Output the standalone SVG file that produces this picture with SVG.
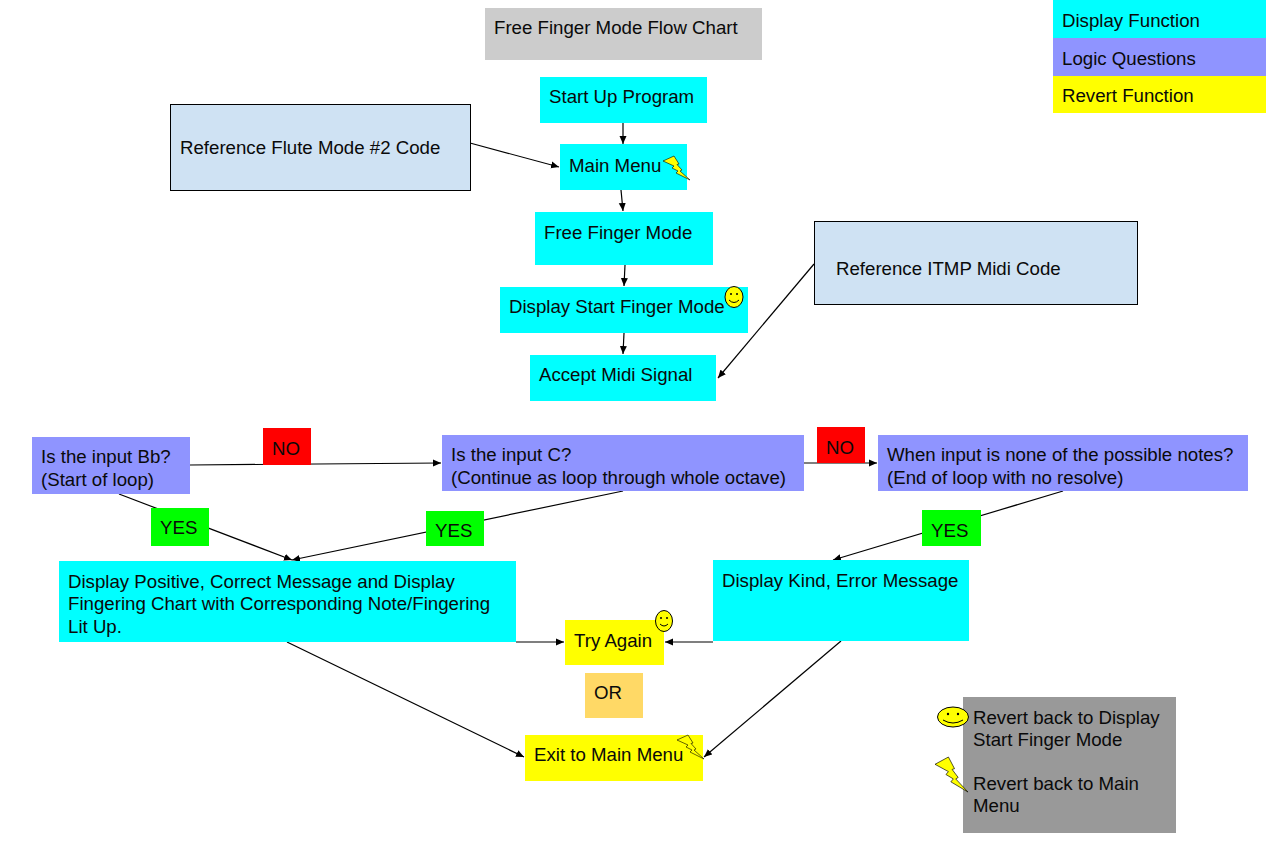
<svg xmlns="http://www.w3.org/2000/svg" width="1276" height="850" viewBox="0 0 1276 850">
<style>
text{font-family:"Liberation Sans",Arial,sans-serif;font-size:18.67px;fill:#0a0a0a}
.c{stroke:#000;stroke-width:1.2;fill:none;marker-end:url(#a)}
.cy{fill:#00ffff}.pu{fill:#8f94ff}.ye{fill:#ffff00}.bl{fill:#cfe2f3;stroke:#000;stroke-width:1}
.red{fill:#ff0000}.gr{fill:#00ff00}
.sm{fill:#ffff00;stroke:#000;stroke-width:1}
.f{fill:none;stroke:#000;stroke-width:1}
.e{fill:#000}
</style>
<defs>
<marker id="a" markerWidth="9" markerHeight="8" refX="8" refY="4" orient="auto" markerUnits="userSpaceOnUse"><path d="M0 0.5L8 4L0 7.5z" fill="#000"/></marker>
<polygon id="bolt" points="0,5 11,0 16,8 14,8.500 19,14 17,15 27,24 13,17 15,15 9,12 11,10"/>
</defs>
<rect width="1276" height="850" fill="#fff"/>
<g id="connectors">
<path class="c" d="M623 123V144"/>
<path class="c" d="M470 143L559 167"/>
<path class="c" d="M621 190L623 211"/>
<path class="c" d="M625 265L624 286"/>
<path class="c" d="M624 333L623 354"/>
<path class="c" d="M814 264L718 378"/>
<path class="c" d="M190 465L441 463"/>
<path class="c" d="M803 463L877 463"/>
<path class="c" d="M119 494L292 560"/>
<path class="c" d="M623 491L292 560"/>
<path class="c" d="M1063 491L833 560"/>
<path class="c" d="M516 642L564 642"/>
<path class="c" d="M713 642H665"/>
<path class="c" d="M287 642L524 757"/>
<path class="c" d="M841 641L704 757"/>
</g>
<g id="title"><rect x="485" y="8" width="277" height="52" fill="#cccccc"/><text x="494" y="34">Free Finger Mode Flow Chart</text></g>
<g id="legend-display"><rect x="1053" y="0" width="213" height="38" class="cy"/><text x="1062" y="27">Display Function</text></g>
<g id="legend-logic"><rect x="1053" y="38" width="213" height="38" class="pu"/><text x="1062" y="65">Logic Questions</text></g>
<g id="legend-revert"><rect x="1053" y="76" width="213" height="37" class="ye"/><text x="1062" y="102">Revert Function</text></g>
<g id="start-up"><rect x="540" y="77" width="167" height="46" class="cy"/><text x="549" y="103">Start Up Program</text></g>
<g id="ref-flute"><rect x="170.500" y="104.500" width="300" height="86" class="bl"/><text x="180" y="154">Reference Flute Mode #2 Code</text></g>
<g id="main-menu"><rect x="560" y="144" width="127" height="46" class="cy"/><text x="569" y="172">Main Menu</text>
<use href="#bolt" x="663" y="156" class="sm" style="stroke-width:.6"/></g>
<g id="free-finger"><rect x="535" y="212" width="178" height="53" class="cy"/><text x="544" y="239">Free Finger Mode</text></g>
<g id="ref-itmp"><rect x="814.500" y="221.500" width="323" height="83" class="bl"/><text x="836" y="275">Reference ITMP Midi Code</text></g>
<g id="display-start"><rect x="500" y="287" width="248" height="46" class="cy"/><text x="509" y="313">Display Start Finger Mode</text>
<ellipse cx="734" cy="297" rx="9" ry="10.500" class="sm"/><circle cx="731" cy="294" r="1" class="e"/><circle cx="737" cy="294" r="1" class="e"/><path class="f" d="M729 300Q734 305 739 300"/></g>
<g id="accept-midi"><rect x="530" y="355" width="186" height="46" class="cy"/><text x="539" y="381">Accept Midi Signal</text></g>
<g id="q-bb"><rect x="32" y="437" width="158" height="57" class="pu"/><text x="41" y="463">Is the input Bb?</text><text x="41" y="486">(Start of loop)</text></g>
<g id="no-1"><rect x="263" y="428" width="48" height="37" class="red"/><text x="272" y="455">NO</text></g>
<g id="q-c"><rect x="442" y="435" width="362" height="56" class="pu"/><text x="451" y="461">Is the input C?</text><text x="451" y="484">(Continue as loop through whole octave)</text></g>
<g id="no-2"><rect x="817" y="427" width="48" height="36" class="red"/><text x="826" y="454">NO</text></g>
<g id="q-none"><rect x="878" y="435" width="370" height="56" class="pu"/><text x="887" y="461">When input is none of the possible notes?</text><text x="887" y="484">(End of loop with no resolve)</text></g>
<g id="yes-1"><rect x="151" y="508" width="58" height="38" class="gr"/><text x="160" y="534">YES</text></g>
<g id="yes-2"><rect x="426" y="511" width="58" height="35" class="gr"/><text x="435" y="537">YES</text></g>
<g id="yes-3"><rect x="922" y="510" width="59" height="36" class="gr"/><text x="931" y="537">YES</text></g>
<g id="display-positive"><rect x="59" y="561" width="457" height="81" class="cy"/><text x="68" y="588">Display Positive, Correct Message and Display</text><text x="68" y="610">Fingering Chart with Corresponding Note/Fingering</text><text x="68" y="633">Lit Up.</text></g>
<g id="display-error"><rect x="713" y="560" width="256" height="81" class="cy"/><text x="722" y="587">Display Kind, Error Message</text></g>
<g id="try-again"><rect x="565" y="620" width="99" height="45" class="ye"/><text x="574" y="647">Try Again</text>
<ellipse cx="664" cy="621" rx="8.500" ry="10.500" class="sm"/><circle cx="661" cy="618" r="1" class="e"/><circle cx="667" cy="618" r="1" class="e"/><path class="f" d="M660 624Q664 628 668 624"/></g>
<g id="or"><rect x="585" y="673" width="58" height="45" fill="#ffd966"/><text x="594" y="699">OR</text></g>
<g id="exit-main"><rect x="525" y="735" width="178" height="46" class="ye"/><text x="534" y="761">Exit to Main Menu</text>
<use href="#bolt" x="677" y="735" class="sm" style="stroke-width:.6"/></g>
<g id="revert-key"><rect x="963" y="697" width="213" height="136" fill="#999999"/><text x="973" y="724">Revert back to Display</text><text x="973" y="746">Start Finger Mode</text><text x="973" y="790">Revert back to Main</text><text x="973" y="812">Menu</text>
<ellipse cx="953" cy="717" rx="15.500" ry="10" class="sm"/><circle cx="948" cy="714" r="1.200" class="e"/><circle cx="958" cy="714" r="1.200" class="e"/><path class="f" d="M943 720Q953 726 963 720"/>
<use href="#bolt" transform="translate(935 757) scale(1.22 1.46)" class="sm" style="stroke-width:.5"/></g>
</svg>
